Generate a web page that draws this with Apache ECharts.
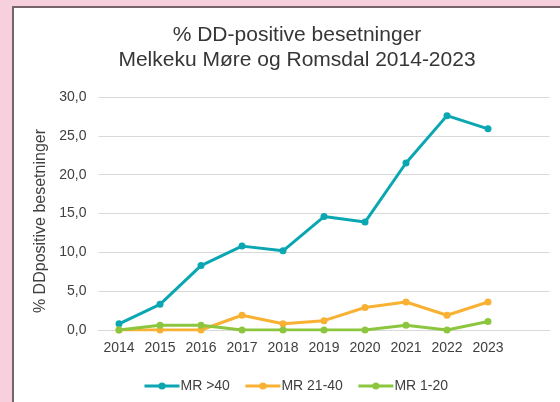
<!DOCTYPE html>
<html>
<head>
<meta charset="utf-8">
<script src="https://cdn.jsdelivr.net/npm/echarts@6/dist/echarts.min.js"></script>
<style>
  html, body { margin: 0; padding: 0; width: 560px; height: 402px; overflow: hidden; background: #f6d1dd; }
  #frame { position: absolute; left: 12px; top: 6px; width: 600px; height: 500px; background: #fff; border-left: 2px solid #76646c; border-top: 2px solid #76646c; box-sizing: border-box; }
  #chart { position: absolute; left: 0; top: 0; width: 560px; height: 402px; }
</style>
</head>
<body>
<div id="frame"></div>
<div id="chart"></div>
<script>
// År (siste kategori er tom, slik som i originalen)
const years = ['2014', '2015', '2016', '2017', '2018', '2019', '2020', '2021', '2022', '2023', ''];
const mrOver40 = [0.8, 3.3, 8.3, 10.8, 10.2, 14.6, 13.9, 21.5, 27.6, 25.9];
const mr21to40 = [0.0, 0.0, 0.0, 1.9, 0.8, 1.2, 2.9, 3.6, 1.9, 3.6];
const mr1to20 = [0.0, 0.6, 0.6, 0.0, 0.0, 0.0, 0.0, 0.6, 0.0, 1.1];
const yTicks = [0, 5, 10, 15, 20, 25, 30];

const font = 'Liberation Sans';
const chart = echarts.init(document.getElementById('chart'));

const makeSeries = (name, data, color) => ({
  name,
  type: 'line',
  data,
  symbol: 'circle',
  symbolSize: 7,
  lineStyle: { width: 3, color },
  itemStyle: { color },
  emphasis: { disabled: true }
});

const option = {
  animation: false,
  backgroundColor: 'transparent',
  title: {
    text: '% DD-positive besetninger\nMelkeku Møre og Romsdal 2014-2023',
    left: 292,
    top: 18,
    textAlign: 'center',
    textStyle: { fontFamily: font, fontSize: 21, fontWeight: 'normal', color: '#363636', lineHeight: 25 }
  },
  legend: {
    top: 374,
    left: 138,
    itemWidth: 35,
    itemHeight: 9,
    itemGap: 14,
    lineStyle: { width: 3 },
    textStyle: { fontFamily: font, fontSize: 14, color: '#404040', padding: [0, 0, 0, -4] },
    data: ['MR >40', 'MR 21-40', 'MR 1-20']
  },
  grid: { left: 98.5, right: 10.5, top: 97, bottom: 72 },
  xAxis: {
    type: 'category',
    data: years,
    boundaryGap: true,
    axisLine: { lineStyle: { color: '#d9d9d9', width: 1 } },
    axisTick: { show: false },
    axisLabel: { fontFamily: font, fontSize: 14, color: '#404040', margin: 11, interval: 0 }
  },
  yAxis: {
    type: 'value',
    min: yTicks[0],
    max: yTicks[yTicks.length - 1],
    interval: 5,
    name: '% DDpositive besetninger',
    nameLocation: 'middle',
    nameGap: 45,
    nameTextStyle: { fontFamily: font, fontSize: 16, color: '#404040', padding: [0, 15, 0, 0] },
    axisLine: { show: false },
    axisTick: { show: false },
    splitLine: { lineStyle: { color: '#d9d9d9', width: 1 } },
    axisLabel: {
      fontFamily: font, fontSize: 14, color: '#404040', margin: 12,
      formatter: v => v.toFixed(1).replace('.', ',')
    }
  },
  series: [
    makeSeries('MR >40', mrOver40, '#0aa7b2'),
    makeSeries('MR 21-40', mr21to40, '#f8b133'),
    makeSeries('MR 1-20', mr1to20, '#8cc63f')
  ]
};

chart.setOption(option);
</script>
</body>
</html>
